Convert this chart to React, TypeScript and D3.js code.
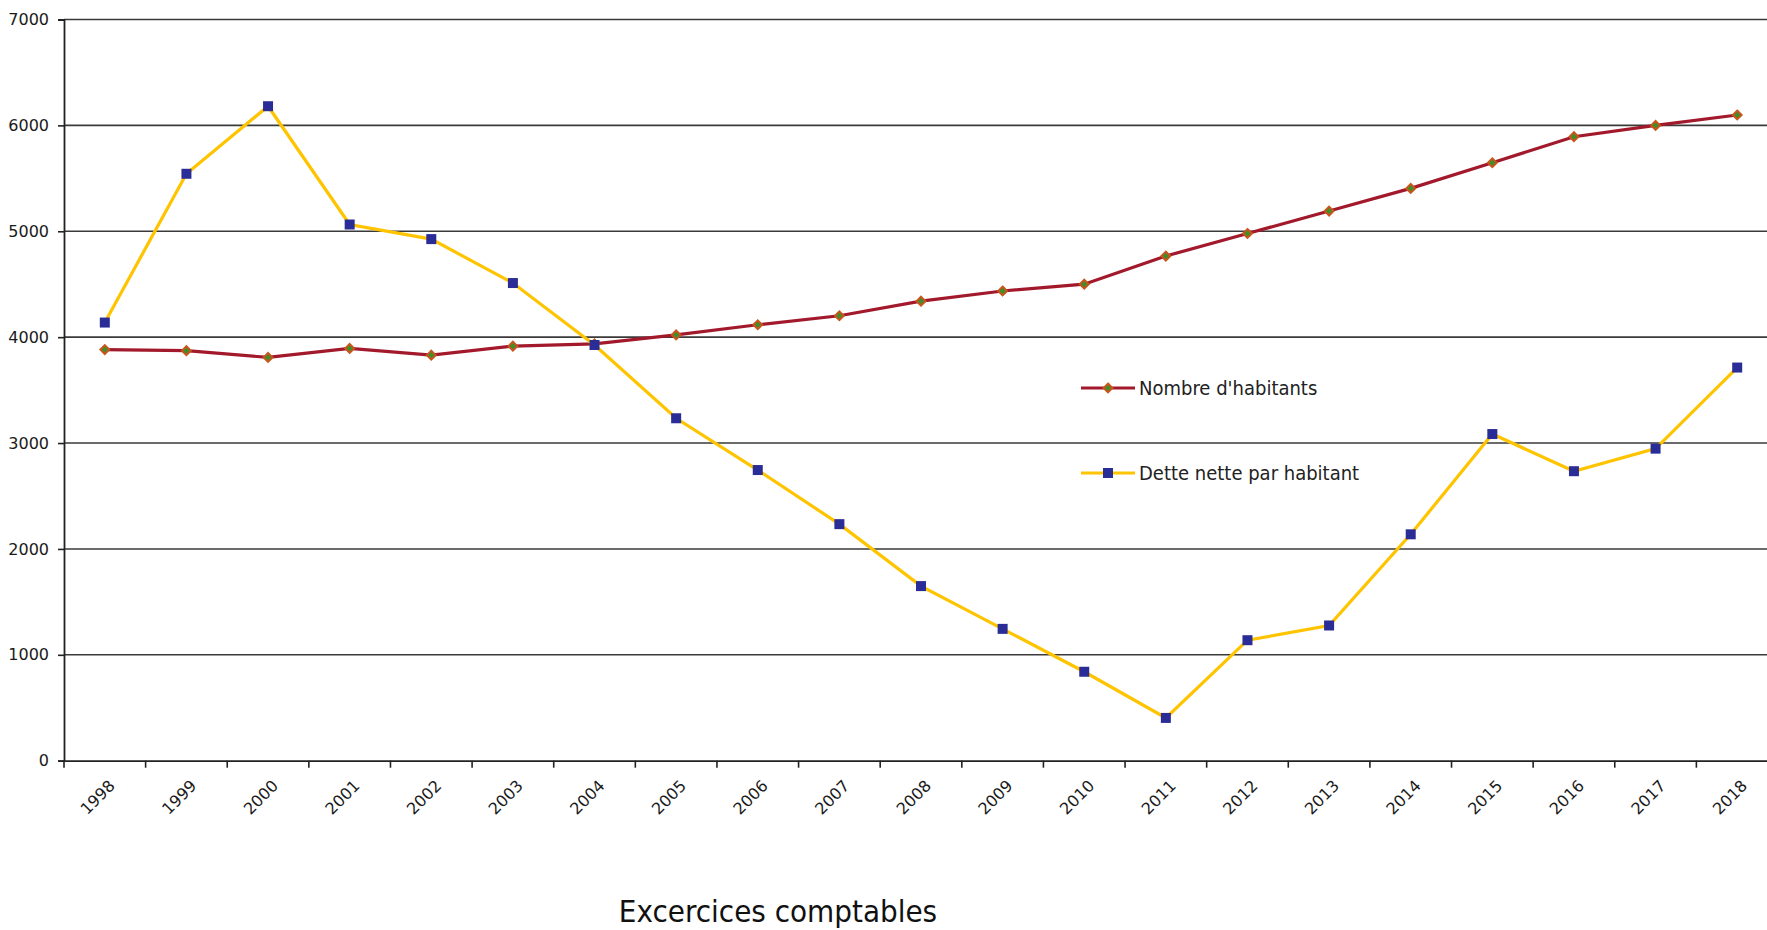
import { useEffect, useRef } from "react";
import * as d3 from "d3";

const years = [
  "1998", "1999", "2000", "2001", "2002", "2003", "2004", "2005", "2006", "2007", "2008",
  "2009", "2010", "2011", "2012", "2013", "2014", "2015", "2016", "2017", "2018",
];
const habitants = [
  3883, 3872, 3809, 3894, 3830, 3915, 3936, 4021, 4117, 4202, 4340,
  4436, 4500, 4766, 4979, 5191, 5405, 5647, 5893, 6000, 6098,
];
const detteParHabitant = [
  4138, 5543, 6181, 5064, 4926, 4511, 3926, 3234, 2745, 2234, 1649,
  1245, 840, 404, 1138, 1277, 2138, 3085, 2734, 2947, 3713,
];
const yTicks = [0, 1000, 2000, 3000, 4000, 5000, 6000, 7000];

const FONT = "'DejaVu Sans Condensed', 'DejaVu Sans', sans-serif";
const TICK_FONT = "'DejaVu Sans', sans-serif";

export default function App() {
  const ref = useRef<SVGSVGElement | null>(null);
  const width = 1767;
  const height = 930;
  const margin = { top: 19.5, left: 64, bottom: 760.7, right: 1778 };

  useEffect(() => {
    const svg = d3.select(ref.current);
    svg.selectAll("*").remove();

    const x = d3.scaleBand<string>().domain(years).range([margin.left, margin.right]).padding(0);
    const y = d3.scaleLinear().domain([0, 7000]).range([margin.bottom, margin.top]);
    const cx = (yr: string) => (x(yr) ?? 0) + x.bandwidth() / 2;

    // horizontal grid
    svg.append("g")
      .selectAll("line")
      .data(yTicks.filter((t) => t > 0))
      .enter()
      .append("line")
      .attr("x1", margin.left)
      .attr("x2", width)
      .attr("y1", (d) => y(d))
      .attr("y2", (d) => y(d))
      .attr("stroke", "#3a3a3a")
      .attr("stroke-width", 1.6);

    // y axis
    const yAxis = svg.append("g")
      .attr("transform", `translate(${margin.left},0)`)
      .call(d3.axisLeft(y).tickValues(yTicks).tickSize(6).tickPadding(9).tickFormat(d3.format("d")));
    yAxis.select(".domain").attr("stroke", "#222").attr("stroke-width", 1.8);
    yAxis.selectAll(".tick line").attr("stroke", "#222").attr("stroke-width", 1.6);
    yAxis.selectAll(".tick text")
      .attr("font-family", TICK_FONT)
      .attr("font-size", 16)
      .attr("fill", "#1a1a1a");

    // x axis
    const xAxis = svg.append("g")
      .attr("transform", `translate(0,${margin.bottom})`)
      .call(d3.axisBottom(x).tickSize(0).tickSizeOuter(0));
    xAxis.select(".domain").attr("stroke", "#222").attr("stroke-width", 1.8);
    xAxis.selectAll(".tick text")
      .attr("font-family", TICK_FONT)
      .attr("font-size", 16)
      .attr("fill", "#1a1a1a")
      .attr("text-anchor", "end")
      .attr("dy", 0)
      .attr("transform", "translate(9,24) rotate(-45)");
    // tick marks between categories
    svg.append("g")
      .selectAll("line")
      .data(years)
      .enter()
      .append("line")
      .attr("x1", (d) => x(d) ?? 0)
      .attr("x2", (d) => x(d) ?? 0)
      .attr("y1", margin.bottom)
      .attr("y2", margin.bottom + 7)
      .attr("stroke", "#222")
      .attr("stroke-width", 1.6);

    const line = d3.line<number>()
      .x((_, i) => cx(years[i]))
      .y((d) => y(d));

    // population line
    svg.append("path")
      .datum(habitants)
      .attr("d", line)
      .attr("fill", "none")
      .attr("stroke", "#a3192c")
      .attr("stroke-width", 3.2);

    // dette line
    svg.append("path")
      .datum(detteParHabitant)
      .attr("d", line)
      .attr("fill", "none")
      .attr("stroke", "#ffc400")
      .attr("stroke-width", 3.2);

    const diamond = d3.symbol().type(d3.symbolDiamond2).size(50);
    svg.append("g")
      .selectAll("path")
      .data(habitants)
      .enter()
      .append("path")
      .attr("d", diamond)
      .attr("transform", (d, i) => `translate(${cx(years[i])},${y(d)})`)
      .attr("fill", "#3d8f2a")
      .attr("stroke", "#c8561c")
      .attr("stroke-width", 2);

    svg.append("g")
      .selectAll("rect")
      .data(detteParHabitant)
      .enter()
      .append("rect")
      .attr("x", (d, i) => cx(years[i]) - 5)
      .attr("y", (d) => y(d) - 5)
      .attr("width", 10)
      .attr("height", 10)
      .attr("fill", "#2b2d96");

    // legend
    const legend = svg.append("g").attr("transform", "translate(1081,0)");
    const items = [
      { label: "Nombre d'habitants", color: "#a3192c", y: 388, kind: "diamond" },
      { label: "Dette nette par habitant", color: "#ffc400", y: 473, kind: "square" },
    ];
    items.forEach((it) => {
      legend.append("line")
        .attr("x1", 0)
        .attr("x2", 54)
        .attr("y1", it.y)
        .attr("y2", it.y)
        .attr("stroke", it.color)
        .attr("stroke-width", 3.2);
      if (it.kind === "diamond") {
        legend.append("path")
          .attr("d", diamond)
          .attr("transform", `translate(27,${it.y})`)
          .attr("fill", "#3d8f2a")
          .attr("stroke", "#c8561c")
          .attr("stroke-width", 2);
      } else {
        legend.append("rect")
          .attr("x", 22)
          .attr("y", it.y - 5)
          .attr("width", 10)
          .attr("height", 10)
          .attr("fill", "#2b2d96");
      }
      legend.append("text")
        .attr("x", 58)
        .attr("y", it.y + 7)
        .attr("font-family", FONT)
        .attr("font-size", 20)
        .attr("fill", "#222")
        .text(it.label);
    });

    // axis title
    svg.append("text")
      .attr("x", 778)
      .attr("y", 922)
      .attr("text-anchor", "middle")
      .attr("font-family", FONT)
      .attr("font-size", 31)
      .attr("fill", "#111")
      .text("Excercices comptables");
  }, []);

  return (
    <svg
      ref={ref}
      width={width}
      height={height}
      style={{ position: "absolute", left: 0, top: 0, background: "#fff" }}
    />
  );
}
